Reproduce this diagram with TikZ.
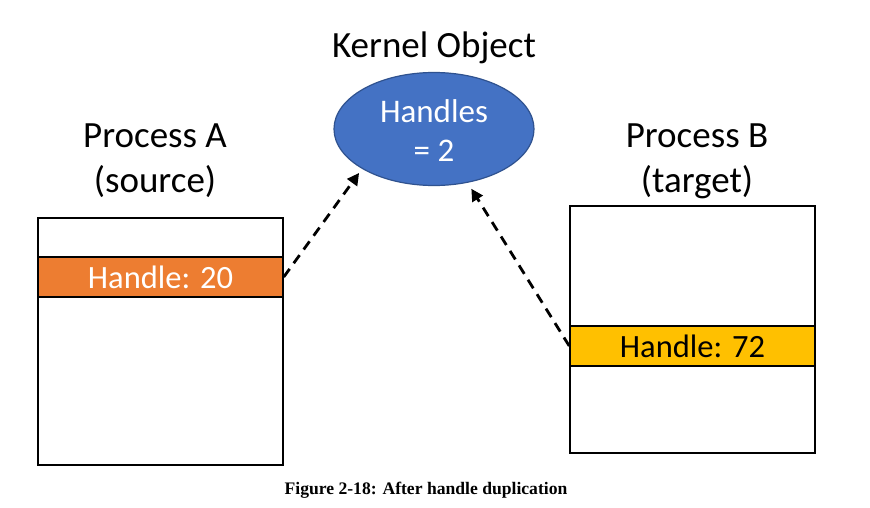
\documentclass[tikz,border=0pt]{standalone}
\usepackage{fontspec}
\setmainfont{Carlito}
\newfontfamily\capfont{Liberation Serif}
\usetikzlibrary{shapes.geometric,arrows.meta}
\definecolor{kblue}{HTML}{4472C4}
\definecolor{kblueedge}{HTML}{2F528F}
\definecolor{horange}{HTML}{ED7D31}
\definecolor{hyellow}{HTML}{FFC000}
\tikzset{
  title/.style={font=\fontsize{37}{40}\selectfont, inner sep=0pt, align=center},
  procbox/.style={draw=black, line width=2pt, fill=white, minimum width=245pt, minimum height=247pt, inner sep=0pt},
  handlebar/.style={draw=black, line width=1.5pt, minimum width=245pt, minimum height=40pt, inner sep=0pt, font=\fontsize{32.5}{36}\selectfont},
  dup/.style={draw=black, line width=2.8pt, dash pattern=on 10pt off 7pt, -{Triangle[length=12pt,width=12pt]}},
}
\begin{document}
\begin{tikzpicture}[x=1pt,y=-1pt]
\useasboundingbox (0,0) rectangle (870,508);
\fill[white] (0,0) rectangle (870,508);
% kernel object
\node[title] (kt) at (434,48) {Kernel Object};
\node[ellipse, draw=kblueedge, line width=1.2pt, fill=kblue, minimum width=200pt, minimum height=113pt, inner sep=0pt] (ko) at (434,129) {};
\node[font=\fontsize{33}{36}\selectfont, text=white, inner sep=0pt] (kh) at (434,111) {Handles};
\node[font=\fontsize{33}{36}\selectfont, text=white, inner sep=0pt] (kn) at (434,151) {= 2};
% process A
\node[title] (pa1) at (155,136) {Process A};
\node[title] (pa2) at (155,182) {(source)};
\node[procbox] (ba) at (160.5,341.5) {};
\node[handlebar, fill=horange, text=white] (ha) at (160.5,277) {Handle: 20};
% process B
\node[title] (pb1) at (697,136) {Process B};
\node[title] (pb2) at (697,182) {(target)};
\node[procbox] (bb) at (692.5,329) {};
\node[handlebar, fill=hyellow, text=black] (hb) at (692.5,346) {Handle: 72};
% arrows
\draw[dup, shorten >=5pt] (ha.east) -- (ko.209);
\draw[dup, shorten >=7pt] (hb.west) -- (ko.302);
% caption
\node[font=\capfont\bfseries\fontsize{17.6}{20}\selectfont, inner sep=0pt] (cap) at (426,490) {Figure 2-18: After handle duplication};
\end{tikzpicture}
\end{document}
